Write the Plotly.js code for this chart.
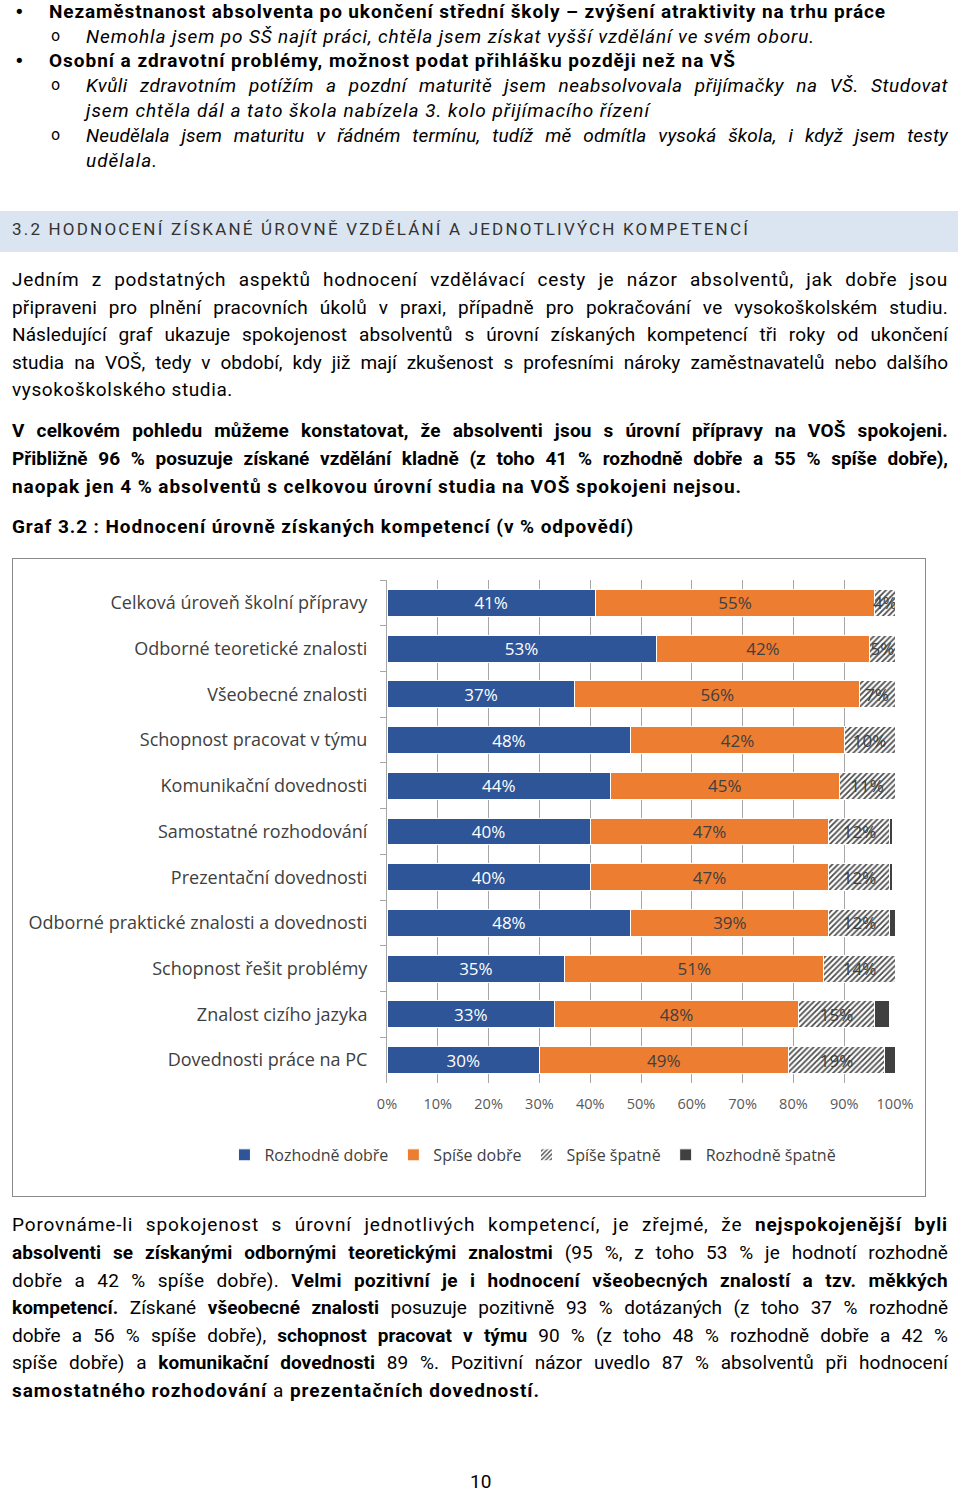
<!DOCTYPE html>
<html>
<head>
<meta charset="utf-8">
<script src="https://cdn.plot.ly/plotly-3.0.1.min.js"></script>
<style>
  html, body { margin: 0; padding: 0; background: #fff; }
  body { width: 960px; height: 1491px; position: relative; overflow: hidden;
         font-family: Roboto, "Liberation Sans", sans-serif; color: #000; }
  .ln { position: absolute; white-space: nowrap; font-size: 19px; line-height: 24px; }
  .b { font-weight: bold; }
  .i { font-style: italic; }
  .mk { position: absolute; font-size: 18px; line-height: 24px; font-family: "DejaVu Sans", sans-serif; }
  #band { position: absolute; left: 0; top: 211px; width: 958px; height: 41px; background: #dbe5f1; }
  #chartbox { position: absolute; left: 12px; top: 558px; width: 914px; height: 639px;
              border: 1px solid #8a8a8a; box-sizing: border-box; }
  #chart { position: absolute; left: 0; top: 0; width: 912px; height: 637px; }
</style>
</head>
<body>
<div id="band"></div>

<div class="mk" style="left:14px; top:0px;">•</div>
<div class="ln b" data-w="837" data-m="l" style="left:49px; top:0px;">Nezaměstnanost absolventa po ukončení střední školy – zvýšení atraktivity na trhu práce</div>
<div class="mk" style="left:51px; top:24px; font-size:15px;">o</div>
<div class="ln i" data-w="729" data-m="l" style="left:86px; top:25px;">Nemohla jsem po SŠ najít práci, chtěla jsem získat vyšší vzdělání ve svém oboru.</div>
<div class="mk" style="left:14px; top:49px;">•</div>
<div class="ln b" data-w="687" data-m="l" style="left:49px; top:49px;">Osobní a zdravotní problémy, možnost podat přihlášku později než na VŠ</div>
<div class="mk" style="left:51px; top:73px; font-size:15px;">o</div>
<div class="ln i" data-w="862" data-m="j" style="left:86px; top:74px;">Kvůli zdravotním potížím a pozdní maturitě jsem neabsolvovala přijímačky na VŠ. Studovat</div>
<div class="ln i" data-w="564" data-m="l" style="left:86px; top:99px;">jsem chtěla dál a tato škola nabízela 3. kolo přijímacího řízení</div>
<div class="mk" style="left:51px; top:123px; font-size:15px;">o</div>
<div class="ln i" data-w="862" data-m="j" style="left:86px; top:124px;">Neudělala jsem maturitu v řádném termínu, tudíž mě odmítla vysoká škola, i když jsem testy</div>
<div class="ln i" data-w="72" data-m="l" style="left:86px; top:149px;">udělala.</div>

<div class="ln" data-w="738" data-m="l" style="left:12px; top:217px; font-size:17px; color:#333;">3.2 HODNOCENÍ ZÍSKANÉ ÚROVNĚ VZDĚLÁNÍ A JEDNOTLIVÝCH KOMPETENCÍ</div>

<div class="ln" data-w="936" data-m="j" style="left:12px; top:268px;">Jedním z podstatných aspektů hodnocení vzdělávací cesty je názor absolventů, jak dobře jsou</div>
<div class="ln" data-w="936" data-m="j" style="left:12px; top:296px;">připraveni pro plnění pracovních úkolů v praxi, případně pro pokračování ve vysokoškolském studiu.</div>
<div class="ln" data-w="936" data-m="j" style="left:12px; top:323px;">Následující graf ukazuje spokojenost absolventů s úrovní získaných kompetencí tři roky od ukončení</div>
<div class="ln" data-w="936" data-m="j" style="left:12px; top:351px;">studia na VOŠ, tedy v období, kdy již mají zkušenost s profesními nároky zaměstnavatelů nebo dalšího</div>
<div class="ln" data-w="221" data-m="l" style="left:12px; top:378px;">vysokoškolského studia.</div>

<div class="ln b" data-w="936" data-m="j" style="left:12px; top:419px;">V celkovém pohledu můžeme konstatovat, že absolventi jsou s úrovní přípravy na VOŠ spokojeni.</div>
<div class="ln b" data-w="936" data-m="j" style="left:12px; top:447px;">Přibližně 96 % posuzuje získané vzdělání kladně (z toho 41 % rozhodně dobře a 55 % spíše dobře),</div>
<div class="ln b" data-w="730" data-m="l" style="left:12px; top:475px;">naopak jen 4 % absolventů s celkovou úrovní studia na VOŠ spokojeni nejsou.</div>

<div class="ln b" data-w="622" data-m="l" style="left:12px; top:515px;">Graf 3.2 : Hodnocení úrovně získaných kompetencí (v % odpovědí)</div>

<div id="chartbox"><div id="chart"></div></div>

<div class="ln" data-w="936" data-m="j" style="left:12px; top:1213px;">Porovnáme-li spokojenost s úrovní jednotlivých kompetencí, je zřejmé, že <b>nejspokojenější byli</b></div>
<div class="ln" data-w="936" data-m="j" style="left:12px; top:1241px;"><b>absolventi se získanými odbornými teoretickými znalostmi</b> (95 %, z toho 53 % je hodnotí rozhodně</div>
<div class="ln" data-w="936" data-m="j" style="left:12px; top:1269px;">dobře a 42 % spíše dobře). <b>Velmi pozitivní je i hodnocení všeobecných znalostí a tzv. měkkých</b></div>
<div class="ln" data-w="936" data-m="j" style="left:12px; top:1296px;"><b>kompetencí.</b> Získané <b>všeobecné znalosti</b> posuzuje pozitivně 93 % dotázaných (z toho 37 % rozhodně</div>
<div class="ln" data-w="936" data-m="j" style="left:12px; top:1324px;">dobře a 56 % spíše dobře), <b>schopnost pracovat v týmu</b> 90 % (z toho 48 % rozhodně dobře a 42 %</div>
<div class="ln" data-w="936" data-m="j" style="left:12px; top:1351px;">spíše dobře) a <b>komunikační dovednosti</b> 89 %. Pozitivní názor uvedlo 87 % absolventů při hodnocení</div>
<div class="ln" data-w="528" data-m="l" style="left:12px; top:1379px;"><b>samostatného rozhodování</b> a <b>prezentačních dovedností.</b></div>

<div class="ln" style="left:470px; top:1470px;">10</div>

<script>
// ---- data ----
const categories = [
  "Celková úroveň školní přípravy",
  "Odborné teoretické znalosti",
  "Všeobecné znalosti",
  "Schopnost pracovat v týmu",
  "Komunikační dovednosti",
  "Samostatné rozhodování",
  "Prezentační dovednosti",
  "Odborné praktické znalosti a dovednosti",
  "Schopnost řešit problémy",
  "Znalost cizího jazyka",
  "Dovednosti práce na PC"
];
const seriesNames = ["Rozhodně dobře", "Spíše dobře", "Spíše špatně", "Rozhodně špatně"];
const rozhodneDobre  = [41, 53, 37, 48, 44, 40, 40, 48, 35, 33, 30];
const spiseDobre     = [55, 42, 56, 42, 45, 47, 47, 39, 51, 48, 49];
const spiseSpatne    = [4, 5, 7, 10, 11, 12, 12, 12, 14, 15, 19];
const rozhodneSpatne = [0.4, 0, 0.6, 0.3, 0.6, 0.6, 0.5, 1.3, 0.4, 3, 2];
const xTickVals = [0, 10, 20, 30, 40, 50, 60, 70, 80, 90, 100];
const xTickText = ["0%", "10%", "20%", "30%", "40%", "50%", "60%", "70%", "80%", "90%", "100%"];

// ---- text fitting ----
document.querySelectorAll('.ln[data-w]').forEach(el => {
  const target = parseFloat(el.dataset.w);
  const natural = el.getBoundingClientRect().width;
  const txt = el.textContent;
  const diff = target - natural;
  const spaces = (txt.match(/ /g) || []).length;
  const n = txt.length;
  if (el.dataset.m === 'j' && diff >= 0 && spaces) {
    const cap = 7;
    const perSpace = Math.min(diff / spaces, cap);
    el.style.wordSpacing = perSpace + 'px';
    const rest = diff - perSpace * spaces;
    if (rest > 0) el.style.letterSpacing = (rest / n) + 'px';
  } else if (n > 1) {
    el.style.letterSpacing = (diff / n) + 'px';
  }
});

// ---- chart ----
const F = '"Open Sans", "Liberation Sans", sans-serif';
function mk(vals, name, color, textColor, pattern, showText) {
  const t = {
    type: 'bar', orientation: 'h', name: name,
    x: vals, y: categories,
    marker: { color: color, line: { color: '#ffffff', width: 1 } },
    hoverinfo: 'skip'
  };
  if (pattern) t.marker.pattern = pattern;
  if (showText) {
    t.text = vals.map(v => v + '%');
    t.texttemplate = '%{text}';
    t.textposition = 'inside';
    t.insidetextanchor = 'middle';
    t.textangle = 0;
    t.constraintext = 'none';
    t.textfont = { family: F, size: 17, color: textColor };
  } else {
    t.textposition = 'none';
  }
  return t;
}
const traces = [
  mk(rozhodneDobre, seriesNames[0], '#2e5597', '#ffffff', null, true),
  mk(spiseDobre, seriesNames[1], '#ed7d31', '#404040', null, true),
  mk(spiseSpatne, seriesNames[2], '#ffffff', '#404040',
     { shape: '/', fgcolor: '#4d4d4d', bgcolor: '#ffffff', size: 4, solidity: 0.45 }, true),
  mk(rozhodneSpatne, seriesNames[3], '#404040', '#ffffff', null, false)
];

const layout = {
  width: 912, height: 637,
  margin: { l: 374, r: 30, t: 21, b: 113 },
  paper_bgcolor: '#ffffff', plot_bgcolor: '#ffffff',
  barmode: 'stack', bargap: 0.41,
  showlegend: true,
  uniformtext: { mode: 'show', minsize: 17 },
  font: { family: F, color: '#404040' },
  xaxis: {
    range: [0, 100], tickvals: xTickVals, ticktext: xTickText,
    showgrid: true, gridcolor: '#a6a6a6', gridwidth: 1,
    zeroline: false, showline: false, ticks: '',
    tickfont: { family: F, size: 14.5, color: '#595959' },
    ticklabelstandoff: 10, fixedrange: true
  },
  yaxis: {
    type: 'category', autorange: 'reversed',
    showgrid: false, showline: true, linecolor: '#a6a6a6', linewidth: 1,
    ticks: 'outside', ticklen: 6, tickcolor: '#a6a6a6', tickson: 'boundaries',
    tickfont: { family: F, size: 18, color: '#404040' },
    ticklabelstandoff: 15, fixedrange: true
  },
  legend: {
    orientation: 'h', x: -0.32, xanchor: 'left', y: -0.143, yanchor: 'middle',
    font: { family: F, size: 16, color: '#404040' },
    traceorder: 'normal', itemwidth: 30,
    bgcolor: 'rgba(0,0,0,0)'
  }
};
Plotly.newPlot('chart', traces, layout, { displayModeBar: false, staticPlot: true });
</script>
</body>
</html>
